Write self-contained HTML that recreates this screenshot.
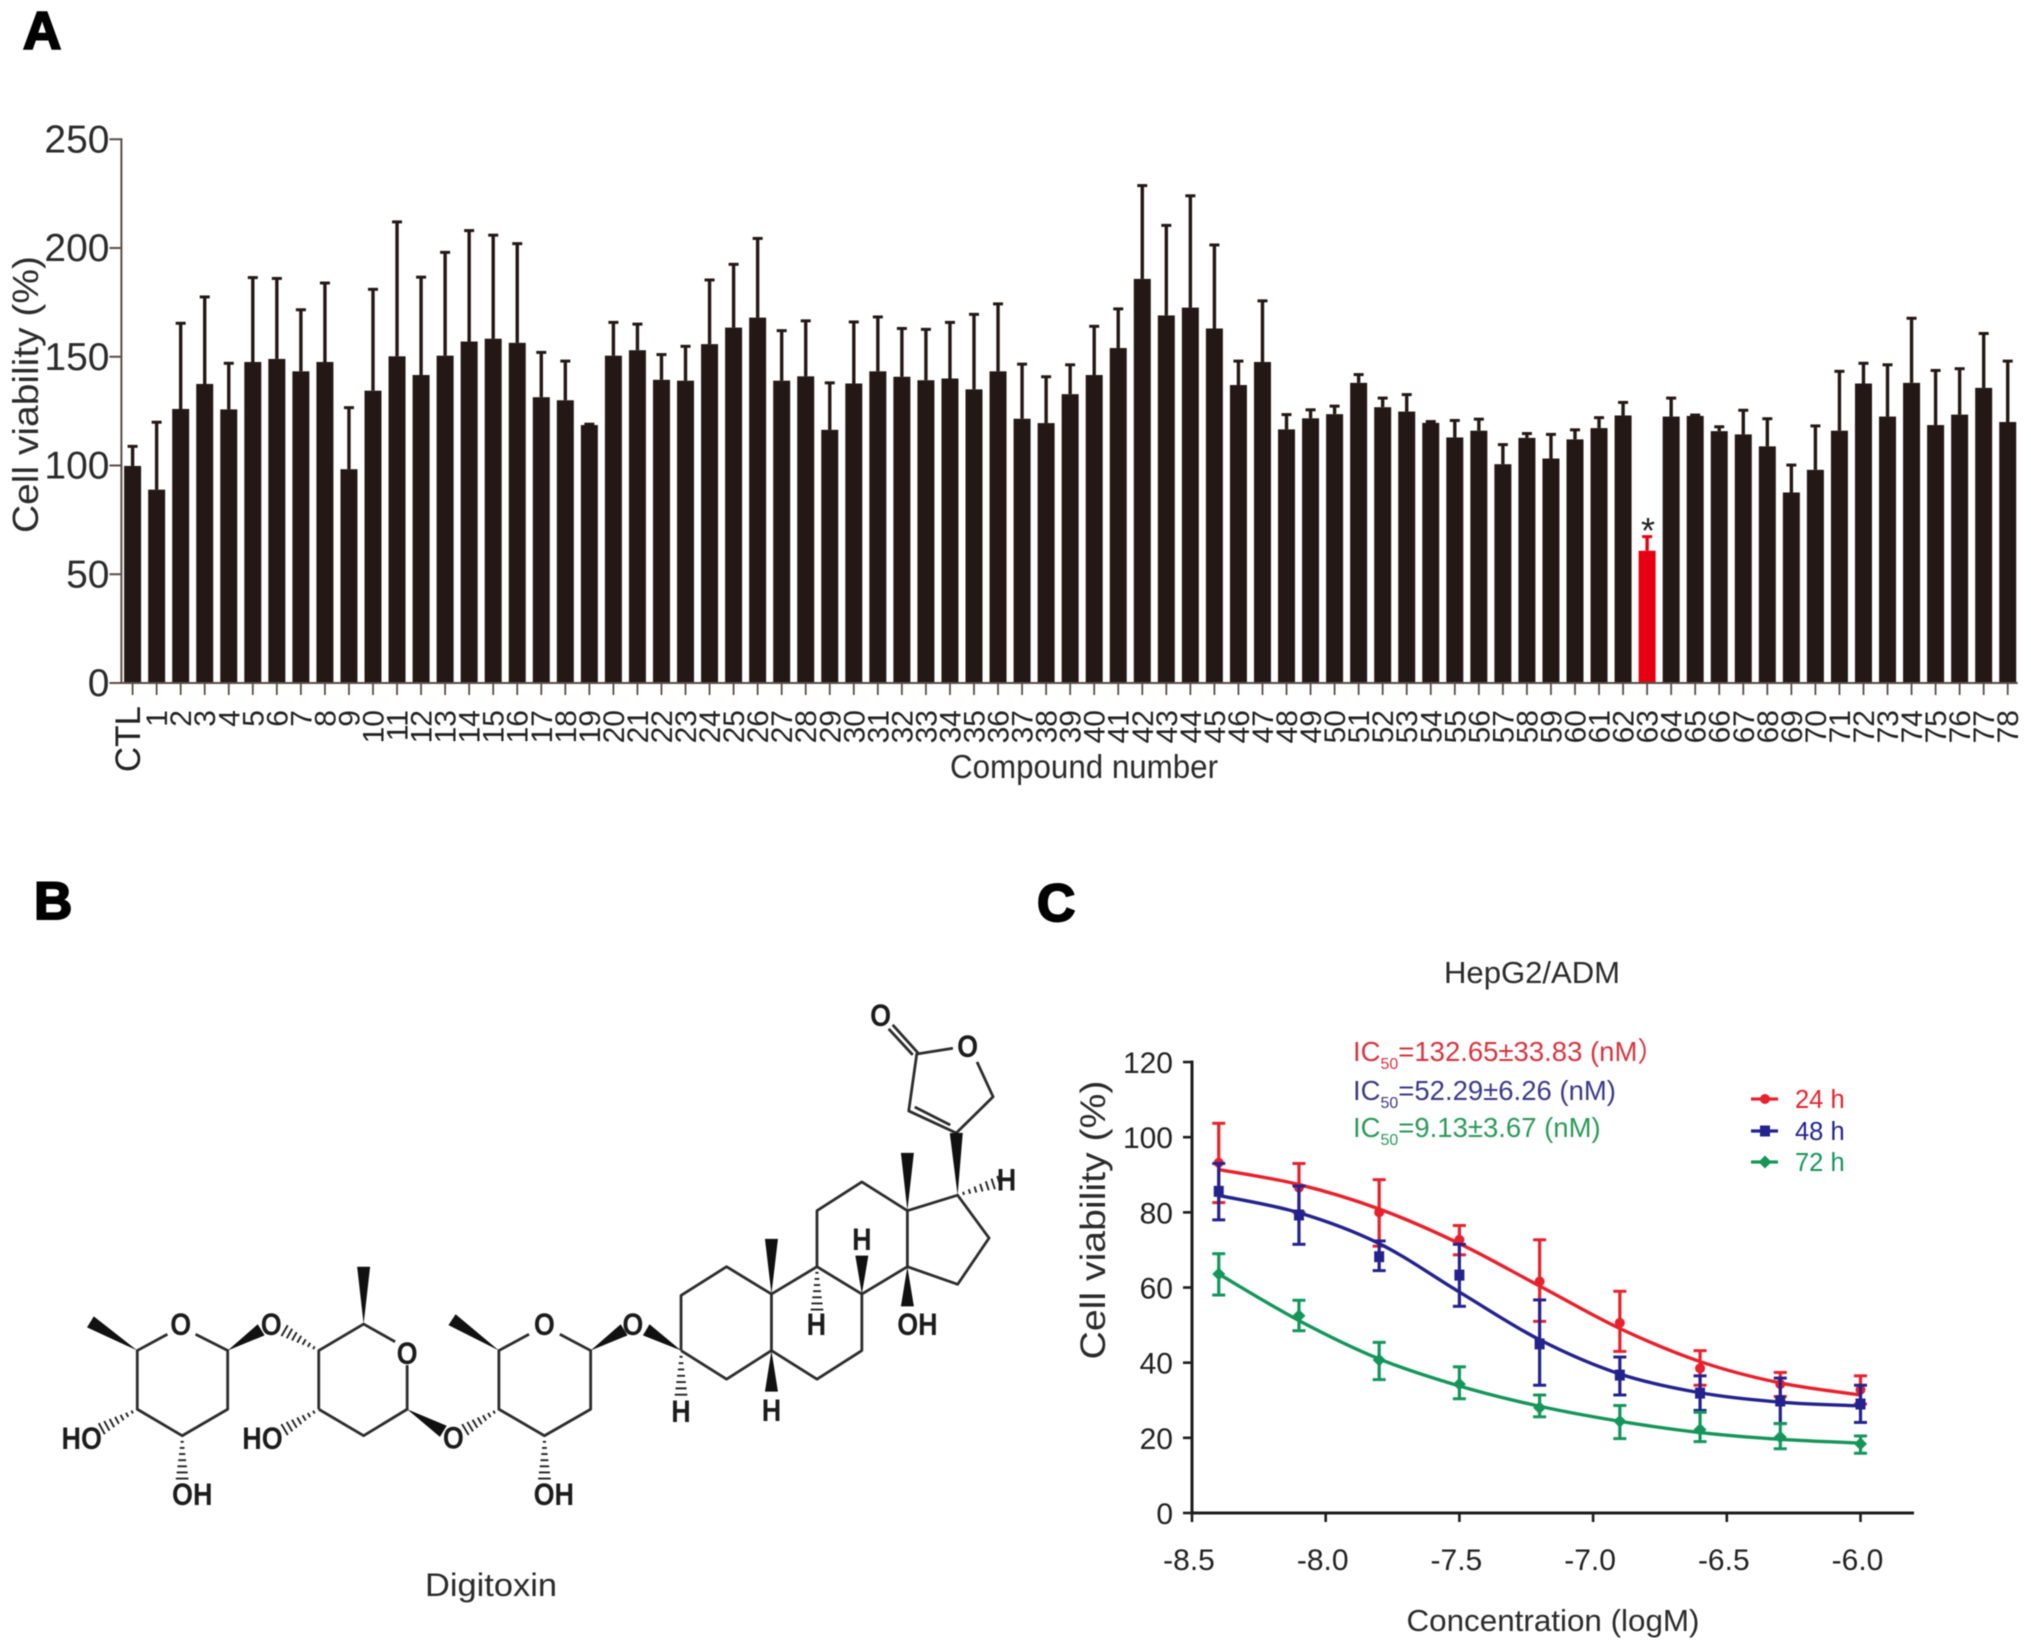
<!DOCTYPE html>
<html>
<head>
<meta charset="utf-8">
<title>Digitoxin cell viability figure</title>
<style>
html,body{margin:0;padding:0;background:#fff;}
svg{display:block;font-family:"Liberation Sans","Noto Sans CJK SC",sans-serif;filter:blur(0.5px);}
</style>
</head>
<body>
<svg id="fig" xmlns="http://www.w3.org/2000/svg" width="2031" height="1652" viewBox="0 0 2031 1652">
  <rect x="0" y="0" width="2031" height="1652" fill="#ffffff"/>
  <text x="23" y="49" font-size="53" font-weight="bold" fill="#000" stroke="#000" stroke-width="2">A</text>
  <text x="34" y="919" font-size="53" font-weight="bold" fill="#000" stroke="#000" stroke-width="2">B</text>
  <text x="1037" y="921" font-size="53" font-weight="bold" fill="#000" stroke="#000" stroke-width="2">C</text>

  <g id="panelA"></g>
  <text transform="translate(38,394.5) rotate(-90)" text-anchor="middle" font-size="36" fill="#2b2b2b" textLength="277" lengthAdjust="spacingAndGlyphs">Cell viability (%)</text>
  <text x="1084" y="778" text-anchor="middle" font-size="33" fill="#2b2b2b" textLength="268" lengthAdjust="spacingAndGlyphs">Compound number</text>
  <text x="1648" y="543" text-anchor="middle" font-size="36" fill="#222">*</text>

  <g id="molecule"></g>
  <text x="491" y="1596" text-anchor="middle" font-size="32" fill="#2b2b2b" textLength="132" lengthAdjust="spacingAndGlyphs">Digitoxin</text>

  <g id="panelC"></g>
  <text x="1532" y="983" text-anchor="middle" font-size="31" fill="#2b2b2b" textLength="176" lengthAdjust="spacingAndGlyphs">HepG2/ADM</text>
  <text transform="translate(1105,1220) rotate(-90)" text-anchor="middle" font-size="35" fill="#2b2b2b" textLength="279" lengthAdjust="spacingAndGlyphs">Cell viability (%)</text>
  <text x="1553" y="1631" text-anchor="middle" font-size="31" fill="#2b2b2b" textLength="293" lengthAdjust="spacingAndGlyphs">Concentration (logM)</text>
  <text x="1353" y="1061" font-size="27.5" fill="#d8343e">IC<tspan font-size="16" dy="8">50</tspan><tspan dy="-8">=132.65±33.83 (nM）</tspan></text>
  <text x="1353" y="1100" font-size="27.5" fill="#3a3a8c">IC<tspan font-size="16" dy="8">50</tspan><tspan dy="-8">=52.29±6.26 (nM)</tspan></text>
  <text x="1353" y="1137" font-size="27.5" fill="#2b9a5a">IC<tspan font-size="16" dy="8">50</tspan><tspan dy="-8">=9.13±3.67 (nM)</tspan></text>
</svg>
<script>
/* ---------- Panel A data ---------- */
var barCategories = ["CTL","1","2","3","4","5","6","7","8","9","10","11","12","13","14","15","16","17","18","19","20","21","22","23","24","25","26","27","28","29","30","31","32","33","34","35","36","37","38","39","40","41","42","43","44","45","46","47","48","49","50","51","52","53","54","55","56","57","58","59","60","61","62","63","64","65","66","67","68","69","70","71","72","73","74","75","76","77","78"];
var barMeans = [99.8,88.9,126,137.5,125.8,147.6,149,143.3,147.6,98.3,134.4,150.2,141.6,150.5,157,158.3,156.4,131.4,130,118.6,150.5,153,139.4,139,155.8,163.4,168,139,141,116.4,137.7,143.3,140.8,139.2,140,135,143.3,121.5,119.5,132.8,141.6,154,185.8,169,172.6,163,137,147.6,116.6,121.7,123.6,138,126.8,124.8,119.6,112.9,116,100.6,112.7,103.2,112,117.2,123,60.8,122.5,122.8,115.8,114.3,108.8,87.6,98,116,137.7,122.5,138,118.6,123.4,135.7,120];
var barUpper = [108.8,119.9,165.4,177.5,147,186.4,186,171.6,183.9,126.6,181,212,186.6,198,208,205.9,202,152,148,119,165.8,165,151,154.8,185.3,192.5,204.4,162,166.5,138,166,168.3,163,162.6,165.8,169.5,174.3,146.6,140.8,146.3,164,172,228.7,210.4,224,201.4,148,175.7,123.4,125.6,127.3,141.8,131,132.6,120.2,120.7,121.3,109.6,114.7,114.3,116.4,122,129,67.3,131,123.2,117.8,125.4,121.5,100.2,118.2,143.3,147,146.3,167.7,143.7,144.5,160.7,148];
var barYTicks = [0,50,100,150,200,250];
var highlightedCategory = "63";

/* ---------- Panel C data ---------- */
var doseX = [-8.4,-8.1,-7.8,-7.5,-7.2,-6.9,-6.6,-6.3,-6.0];
var mean24 = [93.2,86.6,80,72.7,61.6,50.6,38.5,34.3,32.8];
var upper24 = [103.7,93,88.7,76.5,72.7,59,43.2,37.4,36.5];
var lower24 = [82.6,80,71,68.7,51,43,34,31,29];
var fit24 = [91.4,87.4,80.9,71.7,60.4,49.1,40.3,34.6,31.4];
var mean48 = [85.6,79.3,68.2,63.3,45,36.7,31.9,29.8,29];
var upper48 = [93,87,72.4,71.5,56.7,41.5,36.5,35.9,34];
var lower48 = [78,71.5,64.5,55,34,31.4,27.3,23.8,24.1];
var fit48 = [84.5,79.9,71.7,58.8,46.1,37,32,29.5,28.5];
var mean72 = [63.6,52.5,40.7,34.3,28,24.4,22.2,20.2,18.4];
var upper72 = [69,56.6,45.4,38.9,31.4,28.6,26.8,23.8,20.5];
var lower72 = [58,48.5,35.5,30.4,25.6,19.8,19,17.1,15.9];
var fit72 = [63.6,51.2,41,33.8,28.4,24.4,21.4,19.6,18.6];
var doseXTicks = [-8.5,-8,-7.5,-7,-6.5,-6];
var doseYTicks = [0,20,40,60,80,100,120];
var legendLabels = ["24 h","48 h","72 h"];

var NS = "http://www.w3.org/2000/svg";
function mk(parent, tag, attrs, txt){
  var e = document.createElementNS(NS, tag);
  for (var k in attrs) e.setAttribute(k, attrs[k]);
  if (txt !== undefined) e.textContent = txt;
  parent.appendChild(e);
  return e;
}

/* ---------- Panel A ---------- */
(function(){
  var g = document.getElementById("panelA");
  var BAR = "#231815", AXIS = "#5a4c48";
  function xA(i){ return 132.6 + i * 24.04; }
  function yA(v){ return 683 - v * 2.175; }
  var el;
  barCategories.forEach(function(cat, i){
    var col = cat === highlightedCategory ? "#e60012" : BAR;
    var cx = xA(i);
    el = mk(g, "rect", {x: cx - 8.5, y: yA(barMeans[i]), width: 17, height: yA(0) - yA(barMeans[i]), fill: col});
    
    
    el = mk(g, "line", {x1: cx, x2: cx, y1: yA(barMeans[i]), y2: yA(barUpper[i]), stroke: col, "stroke-width": 3.4});
    
    
    el = mk(g, "line", {x1: cx - 5, x2: cx + 5, y1: yA(barUpper[i]), y2: yA(barUpper[i]), stroke: col, "stroke-width": 3});
    
    
    el = mk(g, "line", {x1: cx, x2: cx, y1: yA(0), y2: yA(0) + 12, stroke: AXIS, "stroke-width": 1.8});
    
    
    var t;
    if (cat === "CTL") {
      t = "translate(" + (cx + 7.5) + ",706) rotate(-90)";
      el = mk(g, "text", {transform: t, "text-anchor": "end", "font-size": 35, fill: "#222"}, cat);
    } else {
      t = "translate(" + (cx + 10.5) + ",710) rotate(-90)";
      el = mk(g, "text", {transform: t, "text-anchor": "end", "font-size": 30, fill: "#222"}, cat);
    }
    
    
  });
  el = mk(g, "line", {x1: 121.4, x2: 121.4, y1: yA(250) - 1, y2: yA(0) + 1, stroke: AXIS, "stroke-width": 2});
  
  
  el = mk(g, "line", {x1: 121.4, x2: xA(78) + 10, y1: yA(0), y2: yA(0), stroke: AXIS, "stroke-width": 2});
  
  
  barYTicks.forEach(function(v){
    el = mk(g, "line", {x1: 109.5, x2: 121.4, y1: yA(v), y2: yA(v), stroke: AXIS, "stroke-width": 2});
    
    
    el = mk(g, "text", {x: 109.5, y: yA(v) + 13, "text-anchor": "end", "font-size": 39, fill: "#2b2b2b"}, String(v));
    
    
  });
})();

/* ---------- Molecule (structure diagram, drawn from the picture) ---------- */
(function(){
  var g = document.getElementById("molecule");
  function P(p){ return [p[0] / 1.4933, p[1] / 2.266 + 960]; }
  var bondPaths = [
    [[250,848],[205,885],[205,1018],[272,1078],[340,1018],[340,885],[292,848]],
    [[476,1018],[476,885],[543,825],[590,865]],
    [[608,918],[608,1018],[543,1078],[476,1018]],
    [[790,848],[745,885],[745,1018],[813,1078],[882,1018],[882,885],[836,848]],
    [[1017,885],[1017,760],[1085,695],[1152,757],[1152,885],[1085,950],[1017,885]],
    [[1152,757],[1220,695],[1287,757],[1287,885],[1220,950],[1152,885]],
    [[1220,695],[1220,568],[1287,503],[1355,568],[1355,695],[1287,757]],
    [[1355,568],[1430,533],[1477,630],[1430,735],[1355,695]],
    [[1428,392],[1483,310],[1459,231]],
    [[1423,200],[1369,213],[1357,342],[1428,392]],
    [[1366,333],[1419,374]],
    [[1371,211],[1333,147]],
    [[1363,215],[1327,156]]
  ];
  var wedges = [
    [[205,885],[135,820]],[[340,885],[390,838]],[[543,825],[543,695]],[[608,1018],[662,1068]],
    [[745,885],[675,815]],[[882,885],[932,838]],[[1017,885],[965,838]],[[1152,757],[1152,632]],
    [[1152,885],[1152,978]],[[1287,757],[1287,670]],[[1355,695],[1355,785]],[[1355,568],[1355,437]],
    [[1430,533],[1428,392]]
  ];
  var hashes = [
    [[205,1018],[152,1062]],[[272,1078],[272,1175]],[[476,885],[425,840]],[[476,1018],[425,1064]],
    [[745,1018],[695,1064]],[[813,1078],[813,1175]],[[1017,885],[1017,985]],[[1220,695],[1220,792]],
    [[1430,533],[1492,503]]
  ];
  var atomLabels = [
    ["O",270,825],["O",405,825],["O",608,890],["O",677,1082],["O",813,825],["O",945,825],["O",1315,125],["O",1445,195],
    ["HO",122,1083],["OH",287,1210],["HO",392,1083],["OH",827,1210],["H",1017,1022],["H",1152,1020],["H",1219,825],
    ["H",1287,632],["OH",1370,825],["H",1503,497]
  ];
  var el;
  bondPaths.forEach(function(path){
    el = mk(g, "polyline", {points: path.map(function(p){ return P(p).join(","); }).join(" "), fill: "none", stroke: "#2d2d2d", "stroke-width": 2.8, "stroke-linejoin": "round"});
    
    
  });
  wedges.forEach(function(w){
    var a = P(w[0]), b = P(w[1]);
    var dx = b[0] - a[0], dy = b[1] - a[1], L = Math.sqrt(dx * dx + dy * dy);
    var nx = -dy / L * 6.5, ny = dx / L * 6.5;
    el = mk(g, "polygon", {points: a.join(",") + " " + (b[0] + nx) + "," + (b[1] + ny) + " " + (b[0] - nx) + "," + (b[1] - ny), fill: "#111"});
    
    
  });
  hashes.forEach(function(w){
    var a = P(w[0]), b = P(w[1]);
    var dx = b[0] - a[0], dy = b[1] - a[1], L = Math.sqrt(dx * dx + dy * dy);
    var ux = -dy / L, uy = dx / L, d = "";
    for (var i = 1; i <= 7; i++) {
      var t = i / 7, hw = 0.8 + t * 5.5;
      var cx = a[0] + dx * t, cy = a[1] + dy * t;
      d += "M" + (cx + ux * hw) + " " + (cy + uy * hw) + "L" + (cx - ux * hw) + " " + (cy - uy * hw);
    }
    el = mk(g, "path", {d: d, stroke: "#222", "stroke-width": 1.9, fill: "none"});
    
    
  });
  atomLabels.forEach(function(a){
    var p = P([a[1], a[2]]);
    el = mk(g, "text", {transform: "translate(" + p[0] + "," + (p[1] + 11) + ") scale(1,1.15)", "text-anchor": "middle", "font-size": 27, "font-weight": "bold", fill: "#1c1c1c"}, a[0]);
    
    
  });
})();

/* ---------- Panel C ---------- */
(function(){
  var g = document.getElementById("panelC");
  function xC(v){ return 1192 + (v + 8.5) * 267.4; }
  function yC(v){ return 1513 - v * 3.758; }
  var INK = "#1d1d1d", el;

  function marker(parent, shape, cx, cy, col){
    if (shape === "circle") return mk(parent, "circle", {cx: cx, cy: cy, r: 5, fill: col});
    if (shape === "square") return mk(parent, "rect", {x: cx - 5, y: cy - 5.5, width: 10, height: 11, fill: col});
    return mk(parent, "polygon", {points: cx + "," + (cy - 6.5) + " " + (cx + 6.5) + "," + cy + " " + cx + "," + (cy + 6.5) + " " + (cx - 6.5) + "," + cy, fill: col});
  }
  function curve(vals){
    var pts = doseX.map(function(x, i){ return [xC(x), yC(vals[i])]; });
    var d = "M" + pts[0][0] + " " + pts[0][1];
    for (var i = 0; i < pts.length - 1; i++) {
      var p0 = pts[Math.max(i - 1, 0)], p1 = pts[i], p2 = pts[i + 1], p3 = pts[Math.min(i + 2, pts.length - 1)];
      d += "C" + (p1[0] + (p2[0] - p0[0]) / 6) + " " + (p1[1] + (p2[1] - p0[1]) / 6) + " " +
           (p2[0] - (p3[0] - p1[0]) / 6) + " " + (p2[1] - (p3[1] - p1[1]) / 6) + " " + p2[0] + " " + p2[1];
    }
    return d;
  }
  function series(mean, up, low, fit, col, shape){
    doseX.forEach(function(x, i){
      var cx = xC(x);
      el = mk(g, "line", {x1: cx, x2: cx, y1: yC(up[i]), y2: yC(low[i]), stroke: col, "stroke-width": 3.2});
      
      
      el = mk(g, "line", {x1: cx - 6.5, x2: cx + 6.5, y1: yC(up[i]), y2: yC(up[i]), stroke: col, "stroke-width": 3});
      
      
      el = mk(g, "line", {x1: cx - 6.5, x2: cx + 6.5, y1: yC(low[i]), y2: yC(low[i]), stroke: col, "stroke-width": 3});
      
      
      el = marker(g, shape, cx, yC(mean[i]), col);
      
      
    });
    el = mk(g, "path", {d: curve(fit), fill: "none", stroke: col, "stroke-width": 3.4});
    
    
  }
  series(mean24, upper24, lower24, fit24, "#e8212c", "circle");
  series(mean48, upper48, lower48, fit48, "#23238f", "square");
  series(mean72, upper72, lower72, fit72, "#14965a", "diamond");

  el = mk(g, "line", {x1: 1192, x2: 1192, y1: yC(120) - 1.5, y2: yC(0) + 1.5, stroke: INK, "stroke-width": 3});
  
  
  el = mk(g, "line", {x1: 1192, x2: 1914, y1: yC(0), y2: yC(0), stroke: INK, "stroke-width": 3});
  
  
  doseYTicks.forEach(function(v){
    el = mk(g, "line", {x1: 1183, x2: 1192, y1: yC(v), y2: yC(v), stroke: INK, "stroke-width": 2.6});
    
    
    el = mk(g, "text", {x: 1173, y: yC(v) + 11, "text-anchor": "end", "font-size": 30, fill: "#222"}, String(v));
    
    
  });
  doseXTicks.forEach(function(v){
    el = mk(g, "line", {x1: xC(v), x2: xC(v), y1: yC(0), y2: yC(0) + 9, stroke: INK, "stroke-width": 2.6});
    
    
    el = mk(g, "text", {x: xC(v) - 3, y: 1570, "text-anchor": "middle", "font-size": 30, fill: "#222"}, v.toFixed(1));
    
    
  });

  var legendColors = ["#e8212c", "#23238f", "#14965a"];
  var legendShapes = ["circle", "square", "diamond"];
  var legendRows = [1099, 1131, 1162];
  legendLabels.forEach(function(lab, i){
    var y = legendRows[i], c = legendColors[i];
    el = mk(g, "line", {x1: 1751, x2: 1778, y1: y, y2: y, stroke: c, "stroke-width": 3.2});
    
    
    el = marker(g, legendShapes[i], 1765, y, c);
    
    
    el = mk(g, "text", {x: 1795, y: y + 9, "font-size": 25.5, fill: c}, lab);
    
    
  });
})();
</script>
</body>
</html>
